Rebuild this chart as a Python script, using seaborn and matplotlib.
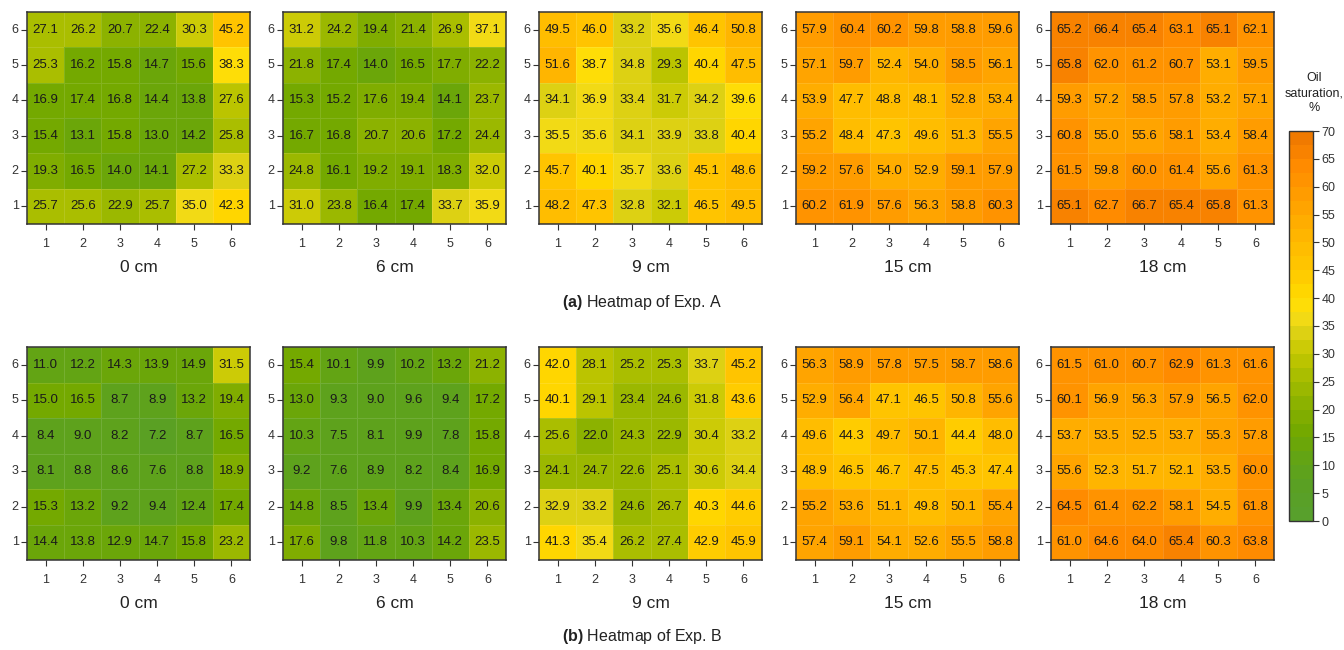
import numpy as np
import pandas as pd
import matplotlib
matplotlib.use("Agg")
import matplotlib.pyplot as plt
from matplotlib.colors import LinearSegmentedColormap
import seaborn as sns

sns.set_theme(style="white")
plt.rcParams['font.family'] = ['Liberation Sans', 'DejaVu Sans']
plt.rcParams['mathtext.fontset'] = 'custom'
plt.rcParams['mathtext.rm'] = 'Liberation Sans'
plt.rcParams['mathtext.bf'] = 'Liberation Sans:bold'

# ---------------- data (rows listed top→bottom: y = 6,5,4,3,2,1) ----------------
row_labels = [6, 5, 4, 3, 2, 1]
col_labels = [1, 2, 3, 4, 5, 6]
depths = ["0 cm", "6 cm", "9 cm", "15 cm", "18 cm"]

expA_0cm = [[27.1, 26.2, 20.7, 22.4, 30.3, 45.2],
            [25.3, 16.2, 15.8, 14.7, 15.6, 38.3],
            [16.9, 17.4, 16.8, 14.4, 13.8, 27.6],
            [15.4, 13.1, 15.8, 13.0, 14.2, 25.8],
            [19.3, 16.5, 14.0, 14.1, 27.2, 33.3],
            [25.7, 25.6, 22.9, 25.7, 35.0, 42.3]]
expA_6cm = [[31.2, 24.2, 19.4, 21.4, 26.9, 37.1],
            [21.8, 17.4, 14.0, 16.5, 17.7, 22.2],
            [15.3, 15.2, 17.6, 19.4, 14.1, 23.7],
            [16.7, 16.8, 20.7, 20.6, 17.2, 24.4],
            [24.8, 16.1, 19.2, 19.1, 18.3, 32.0],
            [31.0, 23.8, 16.4, 17.4, 33.7, 35.9]]
expA_9cm = [[49.5, 46.0, 33.2, 35.6, 46.4, 50.8],
            [51.6, 38.7, 34.8, 29.3, 40.4, 47.5],
            [34.1, 36.9, 33.4, 31.7, 34.2, 39.6],
            [35.5, 35.6, 34.1, 33.9, 33.8, 40.4],
            [45.7, 40.1, 35.7, 33.6, 45.1, 48.6],
            [48.2, 47.3, 32.8, 32.1, 46.5, 49.5]]
expA_15cm = [[57.9, 60.4, 60.2, 59.8, 58.8, 59.6],
             [57.1, 59.7, 52.4, 54.0, 58.5, 56.1],
             [53.9, 47.7, 48.8, 48.1, 52.8, 53.4],
             [55.2, 48.4, 47.3, 49.6, 51.3, 55.5],
             [59.2, 57.6, 54.0, 52.9, 59.1, 57.9],
             [60.2, 61.9, 57.6, 56.3, 58.8, 60.3]]
expA_18cm = [[65.2, 66.4, 65.4, 63.1, 65.1, 62.1],
             [65.8, 62.0, 61.2, 60.7, 53.1, 59.5],
             [59.3, 57.2, 58.5, 57.8, 53.2, 57.1],
             [60.8, 55.0, 55.6, 58.1, 53.4, 58.4],
             [61.5, 59.8, 60.0, 61.4, 55.6, 61.3],
             [65.1, 62.7, 66.7, 65.4, 65.8, 61.3]]

expB_0cm = [[11.0, 12.2, 14.3, 13.9, 14.9, 31.5],
            [15.0, 16.5, 8.7, 8.9, 13.2, 19.4],
            [8.4, 9.0, 8.2, 7.2, 8.7, 16.5],
            [8.1, 8.8, 8.6, 7.6, 8.8, 18.9],
            [15.3, 13.2, 9.2, 9.4, 12.4, 17.4],
            [14.4, 13.8, 12.9, 14.7, 15.8, 23.2]]
expB_6cm = [[15.4, 10.1, 9.9, 10.2, 13.2, 21.2],
            [13.0, 9.3, 9.0, 9.6, 9.4, 17.2],
            [10.3, 7.5, 8.1, 9.9, 7.8, 15.8],
            [9.2, 7.6, 8.9, 8.2, 8.4, 16.9],
            [14.8, 8.5, 13.4, 9.9, 13.4, 20.6],
            [17.6, 9.8, 11.8, 10.3, 14.2, 23.5]]
expB_9cm = [[42.0, 28.1, 25.2, 25.3, 33.7, 45.2],
            [40.1, 29.1, 23.4, 24.6, 31.8, 43.6],
            [25.6, 22.0, 24.3, 22.9, 30.4, 33.2],
            [24.1, 24.7, 22.6, 25.1, 30.6, 34.4],
            [32.9, 33.2, 24.6, 26.7, 40.3, 44.6],
            [41.3, 35.4, 26.2, 27.4, 42.9, 45.9]]
expB_15cm = [[56.3, 58.9, 57.8, 57.5, 58.7, 58.6],
             [52.9, 56.4, 47.1, 46.5, 50.8, 55.6],
             [49.6, 44.3, 49.7, 50.1, 44.4, 48.0],
             [48.9, 46.5, 46.7, 47.5, 45.3, 47.4],
             [55.2, 53.6, 51.1, 49.8, 50.1, 55.4],
             [57.4, 59.1, 54.1, 52.6, 55.5, 58.8]]
expB_18cm = [[61.5, 61.0, 60.7, 62.9, 61.3, 61.6],
             [60.1, 56.9, 56.3, 57.9, 56.5, 62.0],
             [53.7, 53.5, 52.5, 53.7, 55.3, 57.8],
             [55.6, 52.3, 51.7, 52.1, 53.5, 60.0],
             [64.5, 61.4, 62.2, 58.1, 54.5, 61.8],
             [61.0, 64.6, 64.0, 65.4, 60.3, 63.8]]

expA = [expA_0cm, expA_6cm, expA_9cm, expA_15cm, expA_18cm]
expB = [expB_0cm, expB_6cm, expB_9cm, expB_15cm, expB_18cm]
captions = ["(a)", "(b)"]
caption_text = [" Heatmap of Exp. A", " Heatmap of Exp. B"]
cbar_ticks = [0, 5, 10, 15, 20, 25, 30, 35, 40, 45, 50, 55, 60, 65, 70]

# ---------------- colormap ----------------
anchors = [(0.0, "#58a02c"), (5 / 70, "#5aa024"), (10 / 70, "#62a416"),
           (15 / 70, "#72a800"), (20 / 70, "#88b000"), (25 / 70, "#a4bc00"),
           (30 / 70, "#c4c800"), (35 / 70, "#e6d41a"), (37.5 / 70, "#fddf10"),
           (40 / 70, "#ffdc00"), (45 / 70, "#ffc800"), (50 / 70, "#ffbb00"),
           (55 / 70, "#ffab00"), (60 / 70, "#ff9b00"), (65 / 70, "#ff8a00"),
           (1.0, "#f07a00")]
cmap = LinearSegmentedColormap.from_list("oil", anchors, N=28)

W, H = 1344, 650
fig = plt.figure(figsize=(W / 100, H / 100), dpi=100)

lefts = [27, 283, 539, 796, 1051]
pw = 223
rows_px = [(12, 224), (347, 560)]
xlabel_y = [267, 603]
caption_y = [302, 636]

mappable = None
for r, exp in enumerate([expA, expB]):
    top, bot = rows_px[r]
    for i, data in enumerate(exp):
        ax = fig.add_axes([lefts[i] / W, 1 - bot / H, pw / W, (bot - top) / H])
        df = pd.DataFrame(data, index=row_labels, columns=col_labels)
        sns.heatmap(df, ax=ax, cmap=cmap, vmin=0, vmax=70, annot=True, fmt=".1f",
                    annot_kws={"fontsize": 9.5, "color": "#1a1a1a"},
                    cbar=False, linewidths=0.4, linecolor=(1, 1, 1, 0.12))
        mappable = ax.collections[0]
        for s in ax.spines.values():
            s.set_visible(True)
            s.set_edgecolor("#333333")
            s.set_linewidth(1.1)
        ax.tick_params(axis="both", which="both", length=4, width=0.8,
                       color="#333333", labelsize=9, labelcolor="#333333",
                       bottom=True, left=True, pad=2)
        ax.set_yticklabels(ax.get_yticklabels(), rotation=0)
        ax.set_xticklabels(ax.get_xticklabels(), rotation=0)
        ax.tick_params(axis="x", pad=6)
        ax.set_xlabel("")
        ax.set_ylabel("")
        fig.text((lefts[i] + pw / 2) / W, 1 - xlabel_y[r] / H, depths[i],
                 ha="center", va="center", fontsize=12.5, color="#222222")
    fig.text(642 / W, 1 - caption_y[r] / H,
             r"$\bf{" + captions[r] + r"}$" + caption_text[r],
             ha="center", va="center", fontsize=11.5, color="#222222")

cax = fig.add_axes([1289 / W, 1 - 521 / H, 24 / W, 390 / H])
cb = fig.colorbar(mappable, cax=cax, ticks=cbar_ticks)
cb.outline.set_edgecolor("#333333")
cb.outline.set_linewidth(1.0)
cax.tick_params(length=4, width=0.8, color="#333333", labelsize=9,
                labelcolor="#333333", pad=2)
fig.text(1314 / W, 1 - 93 / H, "Oil\nsaturation,\n%", ha="center", va="center",
         fontsize=9, color="#222222", linespacing=1.3)

fig.savefig("out.png", dpi=100)
